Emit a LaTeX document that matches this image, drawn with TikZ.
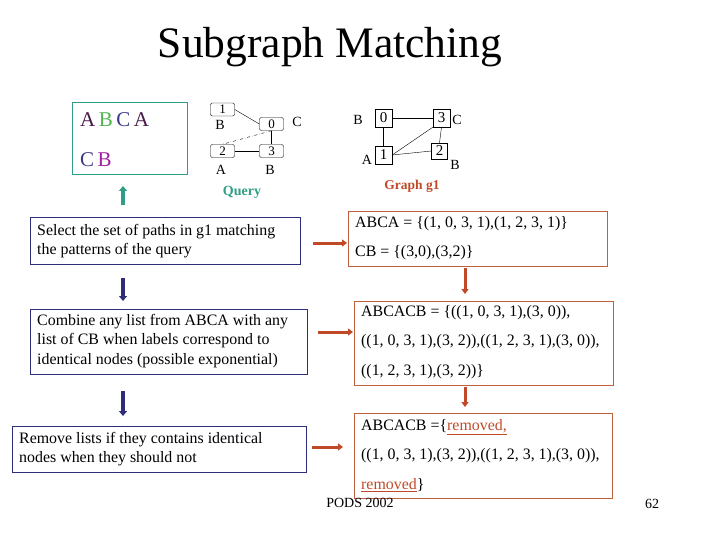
\documentclass[tikz,border=0pt]{standalone}
\usepackage{fontspec}
\setmainfont{Liberation Serif}
\usetikzlibrary{arrows.meta}
\definecolor{teal1}{HTML}{2E9E86}
\definecolor{navy1}{HTML}{2E2E78}
\definecolor{red1}{HTML}{C04A28}
\definecolor{rbox}{HTML}{C0603F}
\definecolor{pur}{HTML}{4A1A4A}
\definecolor{grn}{HTML}{4FB34F}
\definecolor{blu}{HTML}{3A3A85}
\definecolor{mag}{HTML}{A01FA0}
\tikzset{
  stepbox/.style={draw=navy1, line width=0.8pt, inner sep=0pt},
  resbox/.style={draw=rbox, line width=0.8pt, inner sep=0pt},
  txt/.style={anchor=west, inner sep=0pt, font=\fontsize{15.9}{17}\selectfont},
  rtxt/.style={anchor=west, inner sep=0pt, font=\fontsize{15.9}{17}\selectfont},
  qnode/.style={draw, rounded corners=2pt, minimum width=24pt, minimum height=13pt, inner sep=0pt, font=\fontsize{13}{13}\selectfont},
  gnode/.style={draw, minimum width=17pt, minimum height=18pt, inner sep=0pt, font=\fontsize{15}{15}\selectfont},
  lbl/.style={inner sep=0pt, font=\fontsize{14}{14}\selectfont},
  barrow/.style={draw=navy1, line width=3.5pt, -{Triangle[length=5pt,width=8pt]}, fill=navy1},
  rarrow/.style={draw=red1, line width=3pt, -{Triangle[length=5pt,width=7pt]}, fill=red1},
}
\begin{document}
\begin{tikzpicture}[x=1pt,y=-1pt]
\useasboundingbox (0,0) rectangle (720,540);
% title
\node[inner sep=0pt, font=\fontsize{43.5}{43.5}\selectfont] (title) at (330,47) {Subgraph Matching};
% teal box
\node[draw=teal1, line width=0.9pt, minimum width=115pt, minimum height=72pt, inner sep=0pt] (pat) at (129.5,138) {};
\node[anchor=west, inner sep=0pt, font=\fontsize{21}{21}\selectfont] (abca) at (80,120) {\textcolor{pur}{A}\,\textcolor{grn}{B}\,\textcolor{blu}{C}\,\textcolor{pur}{A}};
\node[anchor=west, inner sep=0pt, font=\fontsize{21}{21}\selectfont] (cb) at (80,160) {\textcolor{blu}{C}\,\textcolor{mag}{B}};
\coordinate (ta) at (123,205);
\coordinate (tb) at (123,186);
\draw[draw=teal1, fill=teal1, line width=4pt, -{Triangle[length=5pt,width=8pt]}] (ta) -- (tb);
% query graph
\node[qnode] (q1) at (222.5,109.5) {1};
\node[qnode] (q0) at (271.5,124) {0};
\node[qnode] (q2) at (222.5,151) {2};
\node[qnode] (q3) at (271.5,151) {3};
\node[lbl] (lq1) at (220,125) {B};
\node[lbl] (lq0) at (297,122) {C};
\node[lbl] (lq2) at (221,170) {A};
\node[lbl] (lq3) at (270,170) {B};
\draw (q1.east) -- (q0.west);
\draw (q0.south) -- (q3.north);
\draw (q2.east) -- (q3.west);
\draw[dash dot] (q0.south) -- (q2.north);
\node[inner sep=0pt, font=\bfseries\fontsize{14}{14}\selectfont, text=teal1] (query) at (242,192) {Query};
% graph g1
\node[gnode] (g0) at (383.5,118) {0};
\node[gnode] (g3) at (441.5,118) {3};
\node[gnode] (g1) at (383.5,155) {1};
\node[gnode, minimum width=16pt, minimum height=16pt] (g2) at (439.5,151) {2};
\node[lbl] (lg0) at (358,120) {B};
\node[lbl] (lg3) at (457,120) {C};
\node[lbl] (lg1) at (367,160) {A};
\node[lbl] (lg2) at (455,165) {B};
\draw (g0.east) -- (g3.west);
\draw (g0.south) -- (g1.north);
\draw (g1.east) -- (g3.south west);
\draw (g1.east) -- (g2.west);
\draw (g3.south) -- (g2.north);
\node[inner sep=0pt, font=\bfseries\fontsize{13.5}{13.5}\selectfont, text=red1] (gg1) at (412,186) {Graph g1};
% step boxes
\node[stepbox, minimum width=270pt, minimum height=47pt] (s1) at (165,240.5) {};
\node[txt] (s1a) at (37,232) {Select the set of paths in g1 matching};
\node[txt] (s1b) at (37,251) {the patterns of the query};
\node[stepbox, minimum width=277pt, minimum height=65pt] (s2) at (168.5,341.5) {};
\node[txt] (s2a) at (37,322) {Combine any list from ABCA with any};
\node[txt] (s2b) at (37,341) {list of CB when labels correspond to};
\node[txt] (s2c) at (37,361) {identical nodes (possible exponential)};
\node[stepbox, minimum width=294pt, minimum height=46pt] (s3) at (159,449) {};
\node[txt] (s3a) at (19,440) {Remove lists if they contains identical};
\node[txt] (s3b) at (19,459) {nodes when they should not};
% result boxes
\node[resbox, minimum width=259pt, minimum height=55pt] (r1) at (477.5,238.5) {};
\node[rtxt] (r1a) at (355,224) {ABCA = \{(1, 0, 3, 1),(1, 2, 3, 1)\}};
\node[rtxt] (r1b) at (355,253) {CB = \{(3,0),(3,2)\}};
\node[resbox, minimum width=259pt, minimum height=84pt] (r2) at (483.5,343) {};
\node[rtxt] (r2a) at (361,313) {ABCACB = \{((1, 0, 3, 1),(3, 0)),};
\node[rtxt] (r2b) at (361,342) {((1, 0, 3, 1),(3, 2)),((1, 2, 3, 1),(3, 0)),};
\node[rtxt] (r2c) at (361,372) {((1, 2, 3, 1),(3, 2))\}};
\node[resbox, minimum width=258pt, minimum height=85pt] (r3) at (483,455.5) {};
\node[rtxt] (r3a) at (361,427) {ABCACB =\{\textcolor{red1}{\underline{removed,}}};
\node[rtxt] (r3b) at (361,456) {((1, 0, 3, 1),(3, 2)),((1, 2, 3, 1),(3, 0)),};
\node[rtxt] (r3c) at (361,485) {\textcolor{red1}{\underline{removed}}\}};
% arrows
\coordinate (b1s) at (123,278);
\coordinate (b1e) at (123,301);
\coordinate (b2s) at (123,391);
\coordinate (b2e) at (123,416);
\draw[barrow] (b1s) -- (b1e);
\draw[barrow] (b2s) -- (b2e);
\coordinate (h1s) at (313,243);
\coordinate (h1e) at (347,243);
\coordinate (h2s) at (318,332);
\coordinate (h2e) at (353,332);
\coordinate (h3s) at (312,447);
\coordinate (h3e) at (343,447);
\draw[rarrow] (h1s) -- (h1e);
\draw[rarrow] (h2s) -- (h2e);
\draw[rarrow] (h3s) -- (h3e);
\coordinate (v1s) at (465,268);
\coordinate (v1e) at (465,294);
\coordinate (v2s) at (465,387);
\coordinate (v2e) at (465,407);
\draw[rarrow] (v1s) -- (v1e);
\draw[rarrow] (v2s) -- (v2e);
% footer
\node[inner sep=0pt, font=\fontsize{14}{14}\selectfont] (pods) at (360,503) {PODS 2002};
\node[inner sep=0pt, font=\fontsize{14}{14}\selectfont] (num) at (652,504) {62};
\end{tikzpicture}
\end{document}
